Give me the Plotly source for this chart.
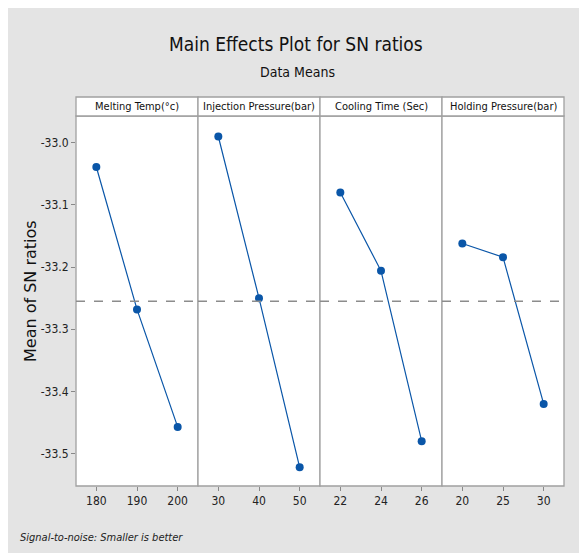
import plotly.graph_objects as go

# browser body adds an 8px margin, so the figure is drawn 8px smaller and offset
OFF = 8
W, H = 587 - OFF, 553 - OFF

factors = ["Melting Temp(°c)", "Injection Pressure(bar)", "Cooling Time (Sec)", "Holding Pressure(bar)"]
levels = [[180, 190, 200], [30, 40, 50], [22, 24, 26], [20, 25, 30]]
sn_means = [
    [-33.039, -33.268, -33.457],
    [-32.990, -33.250, -33.522],
    [-33.080, -33.206, -33.480],
    [-33.162, -33.184, -33.420],
]
x_ranges = [[175, 205], [25, 55], [21, 27], [17.5, 32.5]]
y_ticks = [-33.0, -33.1, -33.2, -33.3, -33.4, -33.5]
y_ticktext = ["-33.0", "-33.1", "-33.2", "-33.3", "-33.4", "-33.5"]
overall_mean = sum(sum(v) for v in sn_means) / sum(len(v) for v in sn_means)

FONT = "DejaVu Sans Condensed, Liberation Sans Narrow, sans-serif"
BLUE = "#0a56a8"

def px(x):
    return (x - OFF) / W

def py(y):
    return 1 - (y - OFF) / H

left, right = 76, 564
top, bottom = 116, 486
pw = (right - left) / 4

fig = go.Figure()
shapes = []
annotations = []

for i in range(4):
    x0 = left + i * pw
    x1 = x0 + pw
    xa = "x" if i == 0 else f"x{i+1}"
    fig.add_trace(go.Scatter(
        x=levels[i], y=sn_means[i], xaxis=xa, yaxis="y", mode="lines+markers",
        line=dict(color=BLUE, width=1.2), marker=dict(color=BLUE, size=8),
        showlegend=False, hoverinfo="x+y"))
    axkey = "xaxis" if i == 0 else f"xaxis{i+1}"
    fig.layout[axkey] = dict(
        domain=[px(x0), px(x1)], range=x_ranges[i], anchor="y",
        tickvals=levels[i], ticks="outside", ticklen=4, tickcolor="#888888",
        showgrid=False, zeroline=False, showline=False,
        tickfont=dict(family=FONT, size=12, color="#222222"), fixedrange=True)
    shapes.append(dict(type="rect", xref="paper", yref="paper", x0=px(x0), x1=px(x1), y0=py(bottom), y1=py(top),
                       fillcolor="white", line=dict(color="#a0a0a0", width=1.3), layer="below"))
    shapes.append(dict(type="rect", xref="paper", yref="paper", x0=px(x0), x1=px(x1), y0=py(top), y1=py(97),
                       fillcolor="white", line=dict(color="#a0a0a0", width=1.3), layer="below"))
    # mean reference line for this panel
    shapes.append(dict(type="line", xref=xa, yref="y", x0=x_ranges[i][0], x1=x_ranges[i][1],
                       y0=overall_mean, y1=overall_mean,
                       line=dict(color="#8c8c8c", width=1.5, dash="dash"), layer="above"))
    annotations.append(dict(text=factors[i], xref="paper", yref="paper", x=px((x0 + x1) / 2), y=py(106.5),
                            showarrow=False, xanchor="center", yanchor="middle",
                            font=dict(family=FONT, size=11, color="#111111")))

annotations += [
    dict(text="Main Effects Plot for SN ratios", xref="paper", yref="paper", x=px(296), y=py(44),
         showarrow=False, xanchor="center", yanchor="middle", font=dict(family=FONT, size=19, color="#111111")),
    dict(text="Data Means", xref="paper", yref="paper", x=px(297), y=py(72),
         showarrow=False, xanchor="center", yanchor="middle", font=dict(family=FONT, size=14, color="#111111")),
    dict(text="Mean of SN ratios", xref="paper", yref="paper", x=px(30), y=py(291), textangle=-90,
         showarrow=False, xanchor="center", yanchor="middle",
         font=dict(family="DejaVu Sans, sans-serif", size=16, color="#111111")),
    dict(text="<i>Signal-to-noise: Smaller is better</i>", xref="paper", yref="paper", x=px(18), y=py(537),
         showarrow=False, xanchor="left", yanchor="middle", font=dict(family=FONT, size=11, color="#222222")),
]

fig.update_layout(
    width=W, height=H, margin=dict(l=0, r=0, t=0, b=0),
    paper_bgcolor="#e4e4e4", plot_bgcolor="rgba(0,0,0,0)",
    yaxis=dict(domain=[py(bottom), py(top)], range=[-33.552, -32.957], anchor="x",
               tickvals=y_ticks, ticktext=y_ticktext, ticks="outside", ticklen=4, tickcolor="#888888",
               showgrid=False, zeroline=False, showline=False,
               tickfont=dict(family=FONT, size=12, color="#222222"), fixedrange=True),
    shapes=shapes, annotations=annotations,
)

fig.write_html("out.html")
